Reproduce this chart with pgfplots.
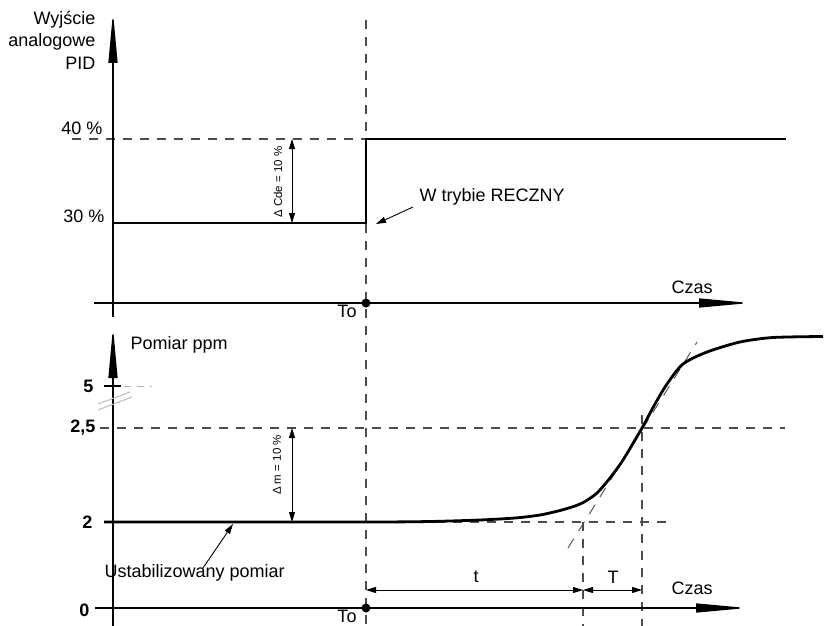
\documentclass[border=0pt]{standalone}
\usepackage{pgfplots}
\pgfplotsset{compat=1.18}
\usetikzlibrary{arrows.meta}
\usepackage{fontspec}
\setmainfont{Liberation Sans}
\begin{document}
\begin{tikzpicture}[font=\fontsize{18}{21}\selectfont,
  dsh/.style={draw=black!70, line width=1.1pt, dash pattern=on 9pt off 8pt},
  ax/.style={draw=black, line width=1.3pt},
  small/.style={font=\fontsize{11.5}{13}\selectfont},
  dim/.style={draw=black, line width=0.9pt, {Triangle[length=10pt,width=6pt]}-{Triangle[length=10pt,width=6pt]}},
  bigarrow/.style={ax, -{Triangle[length=51pt,width=9pt]}}]
\begin{axis}[x=1pt, y=1pt, xmin=0, xmax=825, ymin=0, ymax=626, y dir=reverse,
  hide axis, clip=false]
% ---------- top panel ----------
\draw[dsh] (72,139) -- (366,139);
\draw[dsh] (366,20) -- (366,626);
\draw[bigarrow] (113,317) -- (113,12);
\draw[bigarrow] (94,303) -- (750,303);
\addplot[black, line width=2.8pt, line join=miter] coordinates {(113,223) (366,223) (366,139) (786,139)};
\draw[dim] (292,139) -- (292,223);
\node[small, rotate=90] at (278,182) {Δ Cde = 10 \%};
\node[anchor=east] at (99,20) {Wyjście};
\node[anchor=east] at (99,42) {analogowe};
\node[anchor=east] at (99,63) {PID};
\node[anchor=east] at (106,128) {40 \%};
\node[anchor=east] at (108,216) {30 \%};
\node[anchor=west] at (416,197) {W trybie RECZNY};
\draw[line width=0.9pt, -{Triangle[length=10pt,width=6pt]}] (413,207) -- (376,224);
\node[anchor=west] at (668,287) {Czas};
\fill (366,303) circle[radius=4.5pt];
\node at (347,311) {To};
% ---------- bottom panel ----------
\draw[dsh] (100,428) -- (785,428);
\draw[dsh] (113,522) -- (670,522);
\draw[dsh] (583,522) -- (583,626);
\draw[dsh] (642,415) -- (642,626);
\draw[draw=black!70, line width=0.9pt, dash pattern=on 11pt off 9pt] (568,548) -- (697,342);
\draw[bigarrow] (113,626) -- (113,327);
\draw[bigarrow] (95,608) -- (747,608);
\draw[line width=1.2pt] (104,386) -- (121,386);
\draw[black!30, line width=1pt, dash pattern=on 7pt off 6pt] (124,386) -- (152,386);
\draw[black!25, line width=1.1pt] (98,410) -- (132,397);
\draw[black!25, line width=1.1pt] (98,404) -- (130,392);
\addplot[black, line width=2.8pt, smooth, tension=0.45] coordinates {
 (104,522) (366,522) (430,521.5) (480,520) (515,518) (540,515) (560,510.5)
 (575,506) (585,501.5) (597,493) (610,478) (623,460) (642,428) (655,404)
 (667,384) (683,364) (707,352) (740,342) (773,337.5) (823,336.5)};
\draw[dim] (292,428) -- (292,522);
\node[small, rotate=90] at (277,465) {Δ m = 10 \%};
\node[anchor=west] at (127,345) {Pomiar ppm};
\node[anchor=west] at (101,573) {Ustabilizowany pomiar};
\draw[line width=0.9pt, -{Triangle[length=10pt,width=6pt]}] (203,568) -- (233,524);
\node[anchor=east, font=\fontsize{18}{21}\selectfont\bfseries] at (97,386) {5};
\node[anchor=east, font=\fontsize{18}{21}\selectfont\bfseries] at (99,428) {2,5};
\node[anchor=east, font=\fontsize{18}{21}\selectfont\bfseries] at (96,522) {2};
\node[anchor=east, font=\fontsize{18}{21}\selectfont\bfseries] at (93,610) {0};
\draw[dim] (366,590) -- (583,590);
\draw[dim] (583,590) -- (642,590);
\node at (476,577) {t};
\node at (613,577) {T};
\node[anchor=west] at (668,588) {Czas};
\fill (366,608) circle[radius=4.5pt];
\node at (347,616) {To};
\end{axis}
\pgfresetboundingbox
\path (0,0) rectangle (825pt,626pt);
\end{tikzpicture}
\end{document}
